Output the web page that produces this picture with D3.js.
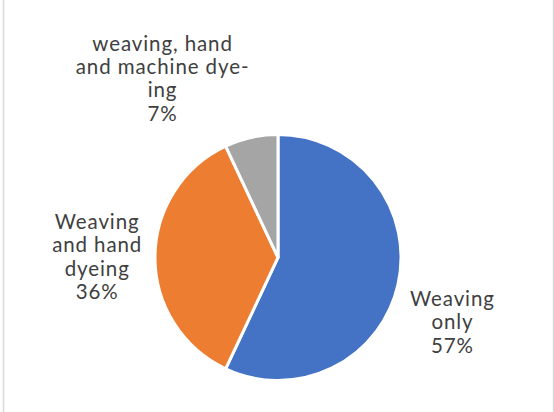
<!DOCTYPE html>
<html>

<head>
  <meta charset="utf-8">
  <title>Weaving and dyeing</title>
  <style>
    body {
      margin: 0;
      background: #fff;
    }

    svg {
      display: block;
    }

    .label {
      font-family: Lato, "Open Sans", sans-serif;
      font-size: 20.5px;
      letter-spacing: 0.9px;
      fill: #404040;
    }
  </style>
</head>

<body>
  <svg width="554" height="412"></svg>

  <script src="https://d3js.org/d3.v7.min.js"></script>
  <script>
    // slice names (one entry per label line) and shares in percent
    var categories = [
      ['Weaving', 'only'],
      ['Weaving', 'and hand', 'dyeing'],
      ['weaving, hand', 'and machine dye-', 'ing']
    ];
    var values = [57, 36, 7];
    var colors = ['#4472C4', '#ED7D31', '#A5A5A5'];

    var svg = d3.select('svg');
    var width = +svg.attr('width');
    var height = +svg.attr('height');

    // light frame lines of the chart area
    svg.selectAll('line.frame')
      .data([3.5, 553.5])
      .join('line')
      .attr('class', 'frame')
      .attr('x1', function(d) { return d; })
      .attr('x2', function(d) { return d; })
      .attr('y1', 0)
      .attr('y2', height)
      .attr('stroke', '#d9d9d9')
      .attr('stroke-width', 1.5);

    var cx = 278;
    var cy = 257.5;
    var radius = 123;

    var pie = d3.pie().sort(null).value(function(d) { return d; });
    var arcs = pie(values);

    var arc = d3.arc().innerRadius(0).outerRadius(radius);
    // labels sit outside the pie, roughly at 1.47r, then nudged like excel's best fit
    var labelArc = d3.arc().innerRadius(radius * 1.47).outerRadius(radius * 1.47);
    var nudge = [[-2, 26], [0, 0], [-76, -2]];

    var g = svg.append('g').attr('transform', 'translate(' + cx + ',' + cy + ')');

    g.selectAll('path')
      .data(arcs)
      .join('path')
      .attr('d', arc)
      .attr('fill', function(d, i) { return colors[i]; })
      .attr('stroke', '#fff')
      .attr('stroke-width', 3)
      .attr('stroke-linejoin', 'miter');

    var lineHeight = 23.3;

    g.selectAll('text.label')
      .data(arcs)
      .join('text')
      .attr('class', 'label')
      .attr('text-anchor', 'middle')
      .each(function(d, i) {
        var c = labelArc.centroid(d);
        var x = c[0] + nudge[i][0];
        var y = c[1] + nudge[i][1];
        var lines = categories[i].concat([values[i] + '%']);
        // vertically centre the block on the anchor point
        var firstBaseline = y - (lines.length - 1) * lineHeight / 2 + 6.5;
        d3.select(this).selectAll('tspan')
          .data(lines)
          .join('tspan')
          .attr('x', x)
          .attr('y', function(t, k) { return firstBaseline + k * lineHeight; })
          .text(function(t) { return t; });
      });
  </script>
</body>

</html>
